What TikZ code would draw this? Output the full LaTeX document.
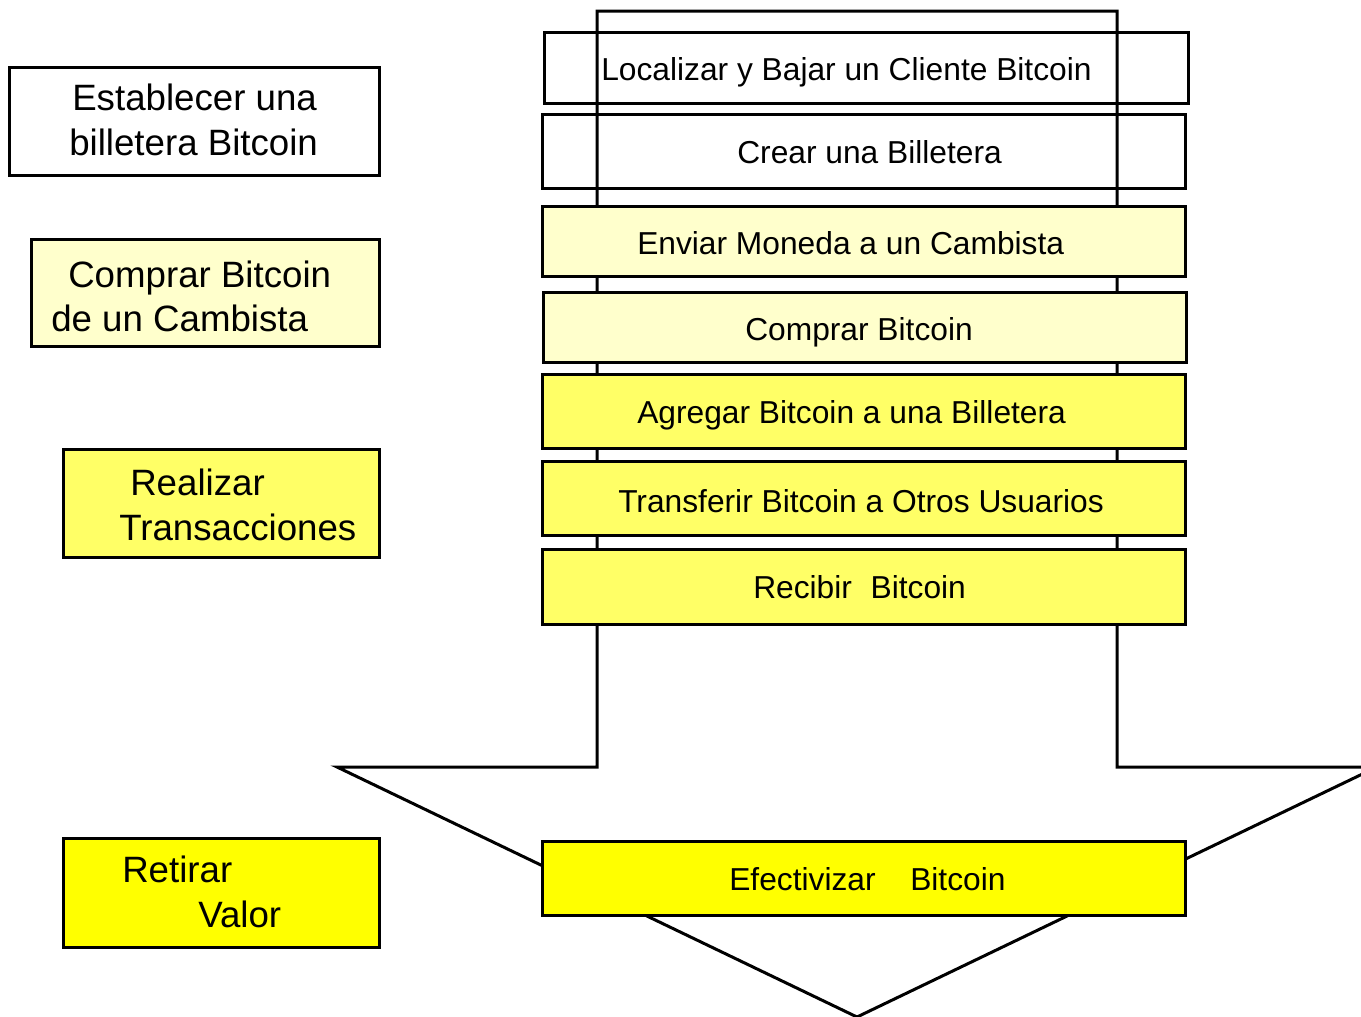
\documentclass[tikz,border=0pt]{standalone}
\usepackage{fontspec}
\setmainfont{Liberation Sans}
\usetikzlibrary{fit}
\definecolor{paleyel}{HTML}{FFFFCC}
\definecolor{midyel}{HTML}{FFFF66}
\definecolor{fullyel}{HTML}{FFFF00}
\tikzset{
  outline/.style={draw=black, line width=2.25pt, line join=miter},
  stepbox/.style={outline, rectangle, inner sep=0pt},
  steptext/.style={anchor=base west, inner sep=0pt, font=\fontsize{23.8pt}{28pt}\selectfont},
  phasetext/.style={anchor=base west, inner sep=0pt, font=\fontsize{27.5pt}{32pt}\selectfont},
}
\begin{document}
\begin{tikzpicture}[x=0.75pt, y=-0.75pt]
\clip (0,0) rectangle (1361,1017);
\fill[white] (0,0) rectangle (1361,1017);

% big downward arrow behind the step boxes
\draw[outline] (597,767) -- (597,11) -- (1117,11) -- (1117,767) -- (1377,767)
  -- (857,1017) -- (337,767) -- cycle;

% phase boxes on the left
\node[stepbox, fill=white,   fit={(9,67) (379,175)}]   (p1) {};
\node[stepbox, fill=paleyel, fit={(31,239) (379,346)}] (p2) {};
\node[stepbox, fill=midyel,  fit={(63,449) (379,557)}] (p3) {};
\node[stepbox, fill=fullyel, fit={(63,838) (379,947)}] (p4) {};

\node[phasetext] (p1a) at (72,110) {Establecer una};
\node[phasetext] (p1b) at (69,155) {billetera Bitcoin};
\node[phasetext] (p2a) at (68,287) {Comprar Bitcoin};
\node[phasetext] (p2b) at (51,331) {de un Cambista};
\node[phasetext] (p3a) at (130,495) {Realizar};
\node[phasetext] (p3b) at (119,540) {Transacciones};
\node[phasetext] (p4a) at (122,882) {Retirar};
\node[phasetext] (p4b) at (198,927) {Valor};

% step boxes inside the arrow
\node[stepbox,               fit={(544,32) (1188,103)}]  (s1) {};
\node[stepbox,               fit={(542,114) (1185,188)}] (s2) {};
\node[stepbox, fill=paleyel, fit={(542,206) (1185,276)}] (s3) {};
\node[stepbox, fill=paleyel, fit={(543,292) (1186,362)}] (s4) {};
\node[stepbox, fill=midyel,  fit={(542,374) (1185,448)}] (s5) {};
\node[stepbox, fill=midyel,  fit={(542,461) (1185,535)}] (s6) {};
\node[stepbox, fill=midyel,  fit={(542,549) (1185,624)}] (s7) {};
\node[stepbox, fill=fullyel, fit={(542,841) (1185,915)}] (s8) {};

\node[steptext] (s1t) at (601,80)  {Localizar y Bajar un Cliente Bitcoin};
\node[steptext] (s2t) at (737,163) {Crear una Billetera};
\node[steptext] (s3t) at (637,254) {Enviar Moneda a un Cambista};
\node[steptext] (s4t) at (745,340) {Comprar Bitcoin};
\node[steptext] (s5t) at (637,423) {Agregar Bitcoin a una Billetera};
\node[steptext] (s6t) at (618,512) {Transferir Bitcoin a Otros Usuarios};
\node[steptext] (s7t) at (753,598) {Recibir\hspace{14pt}Bitcoin};
\node[steptext] (s8t) at (729,890) {Efectivizar\hspace{26pt}Bitcoin};
\end{tikzpicture}
\end{document}
